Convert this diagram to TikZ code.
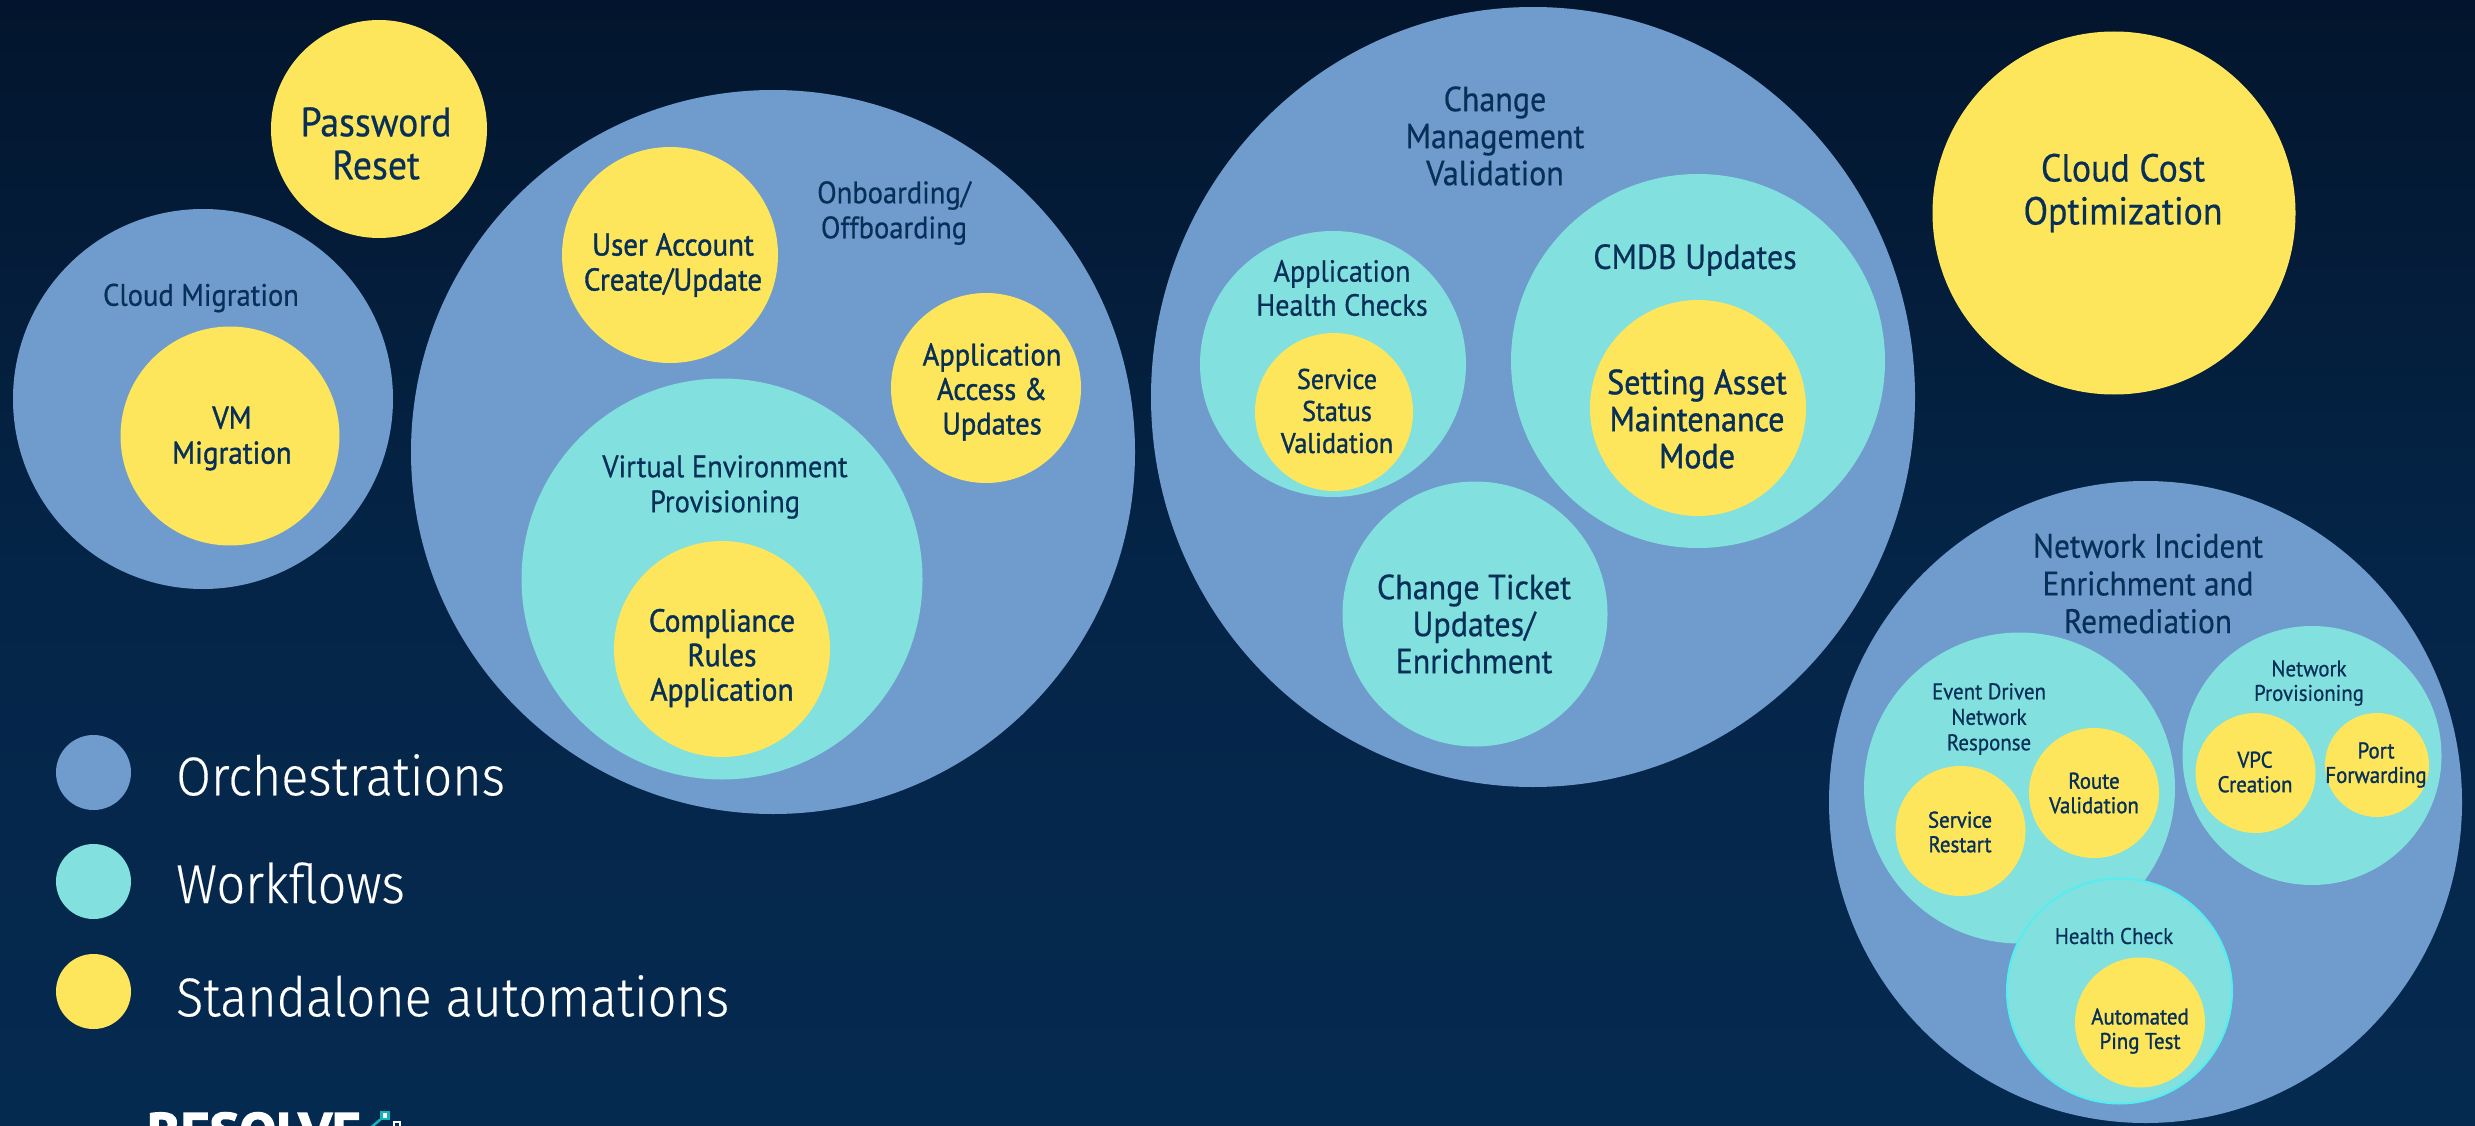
\documentclass[tikz,border=0pt]{standalone}
\usepackage{fontspec}
\setmainfont{PT Sans}[FakeStretch=0.92,FakeBold=0.5]
\newfontfamily\heavyfont{PT Sans}[FakeStretch=0.92,FakeBold=1.2]
\newfontfamily\legendfont{Fira Sans Light}[FakeStretch=0.92,FakeBold=0.3]
\newfontfamily\logofont{PT Sans Bold}[FakeBold=2.5,FakeStretch=1.07]
\usetikzlibrary{shapes.geometric}
\definecolor{orchblue}{HTML}{6F9BCD}
\definecolor{wfteal}{HTML}{82E0DE}
\definecolor{autoyel}{HTML}{FEE65C}
\definecolor{inktext}{HTML}{072F58}
\definecolor{bgtop}{HTML}{03152D}
\definecolor{bgbot}{HTML}{052A50}
\definecolor{hcring}{HTML}{55EEF0}
\definecolor{logoteal}{HTML}{12B5BE}
\tikzset{
  blob/.style={ellipse,inner sep=0pt,draw=none},
  orch/.style={blob,fill=orchblue},
  wf/.style={blob,fill=wfteal},
  auto/.style={blob,fill=autoyel},
  dia/.style n args={2}{minimum width=#1,minimum height=#2},
  lab/.style={text=inktext,align=center,inner sep=0pt},
  fs/.style n args={2}{lab,font=\fontsize{#1}{#2}\selectfont},
  hs/.style n args={2}{lab,font=\heavyfont\fontsize{#1}{#2}\selectfont},
  legtext/.style={text=white,anchor=west,inner sep=0pt,font=\legendfont\fontsize{54.7}{60}\selectfont},
}
\begin{document}
\begin{tikzpicture}[x=1pt,y=-1pt]
\useasboundingbox (0,0) rectangle (2475,1126);
\clip (0,0) rectangle (2475,1126);
\shade[top color=bgtop,bottom color=bgbot,middle color=bgbot!75!bgtop] (0,0) rectangle (2475,1126);
% circles
\node[auto,dia={216}{218}] (pw) at (379,129) {};
\node[orch,dia={380}{380}] (cm) at (203,399) {};
\node[auto,dia={219}{219}] (vm) at (230,436) {};
\node[orch,dia={724}{724}] (ob) at (773,452) {};
\node[auto,dia={216}{216}] (ua) at (670,255) {};
\node[auto,dia={190}{190}] (aa) at (986,388) {};
\node[wf,dia={401}{401}] (ve) at (722,579) {};
\node[auto,dia={216}{216}] (cr) at (722,649) {};
\node[orch,dia={764}{780}] (ch) at (1533,397) {};
\node[wf,dia={266}{266}] (ah) at (1333,364) {};
\node[auto,dia={158}{158}] (ss) at (1334,412) {};
\node[wf,dia={374}{374}] (cd) at (1698,361) {};
\node[auto,dia={216}{216}] (sa) at (1698,408) {};
\node[wf,dia={265}{265}] (ct) at (1475,614) {};
\node[auto,dia={363}{363}] (cc) at (2114,213) {};
\node[orch,dia={633}{642}] (ni) at (2145.5,802) {};
\node[wf,dia={311}{311}] (ev) at (2019.5,788) {};
\node[wf,dia={259}{259}] (np) at (2312,755.5) {};
\node[wf,dia={225}{225},draw=hcring,line width=2pt] (hc) at (2119.5,991) {};
\node[auto,dia={130}{130}] (rv) at (2094,793) {};
\node[auto,dia={130}{130}] (sr) at (1960.5,831) {};
\node[auto,dia={120}{120}] (vp) at (2255.5,773) {};
\node[auto,dia={104}{104}] (pf) at (2377,765) {};
\node[auto,dia={130}{130}] (ap) at (2140,1022.5) {};
% labels
\node[fs={41}{43}] (tpw) at (376,143.5) {Password\\Reset};
\node[fs={31}{35}] (tcm) at (201,298) {Cloud Migration};
\node[hs={31.5}{35}] (tvm) at (232,438.5) {VM\\Migration};
\node[fs={31}{35}] (tob) at (894,213) {Onboarding/\\Offboarding};
\node[hs={31.5}{35}] (tua) at (673,265) {User Account\\Create/Update};
\node[hs={31}{34.5}] (taa) at (992,392) {Application\\Access \&\\Updates};
\node[fs={31}{35}] (tve) at (725,487) {Virtual Environment\\Provisioning};
\node[hs={32}{34.5}] (tcr) at (722,658) {Compliance\\Rules\\Application};
\node[fs={34.8}{37}] (tch) at (1495,136) {Change\\Management\\Validation};
\node[fs={30.6}{34}] (tah) at (1342,288) {Application\\Health Checks};
\node[hs={28.4}{32}] (tss) at (1337,411) {Service\\Status\\Validation};
\node[fs={34.8}{37}] (tcd) at (1695,260) {CMDB Updates};
\node[hs={34.8}{37}] (tsa) at (1697,419) {Setting Asset\\Maintenance\\Mode};
\node[fs={34.8}{37}] (tct) at (1474,624) {Change Ticket\\Updates/\\Enrichment};
\node[fs={39}{43}] (tcc) at (2123,193) {Cloud Cost\\Optimization};
\node[fs={34}{37.7}] (tni) at (2148,583.5) {Network Incident\\Enrichment and\\Remediation};
\node[fs={22.7}{25.5}] (tev) at (1989,719) {Event Driven\\Network\\Response};
\node[fs={22.7}{24.5}] (tnp) at (2309,683) {Network\\Provisioning};
\node[fs={22.7}{24.5}] (thc) at (2114,936) {Health Check};
\node[hs={22.7}{24.5}] (trv) at (2094,793) {Route\\Validation};
\node[hs={22.7}{24.5}] (tsr) at (1960,832) {Service\\Restart};
\node[hs={22.7}{24.5}] (tvp) at (2255,772) {VPC\\Creation};
\node[hs={22.7}{24.5}] (tpf) at (2376,765) {Port\\Forwarding};
\node[hs={22.7}{24.5}] (tap) at (2140,1031) {Automated\\Ping Test};
% legend
\node[orch,dia={75}{75}] (k1) at (93.5,772.5) {};
\node[wf,dia={75}{75}] (k2) at (93.5,881.5) {};
\node[auto,dia={75}{75}] (k3) at (93.5,991.5) {};
\node[legtext] (l1) at (176,775) {Orchestrations};
\node[legtext] (l2) at (176,883) {Workflows};
\node[legtext] (l3) at (176,996) {Standalone automations};
% logo
\node[text=white,anchor=base west,inner sep=0pt,font=\logofont\fontsize{52}{52}\selectfont] (logo) at (147,1149.5) {RESOLVE};
\node[rectangle,draw=logoteal,fill=white,line width=2.5pt,minimum size=7pt,inner sep=0pt] (ic1) at (385,1115.5) {};
\node[rectangle,draw=white,fill=bgbot,line width=2pt,minimum size=6pt,inner sep=0pt] (ic2) at (397,1125) {};
\coordinate (ic0) at (368,1130);
\draw[logoteal,line width=2.5pt] (ic0) -- (ic1);
\end{tikzpicture}
\end{document}
